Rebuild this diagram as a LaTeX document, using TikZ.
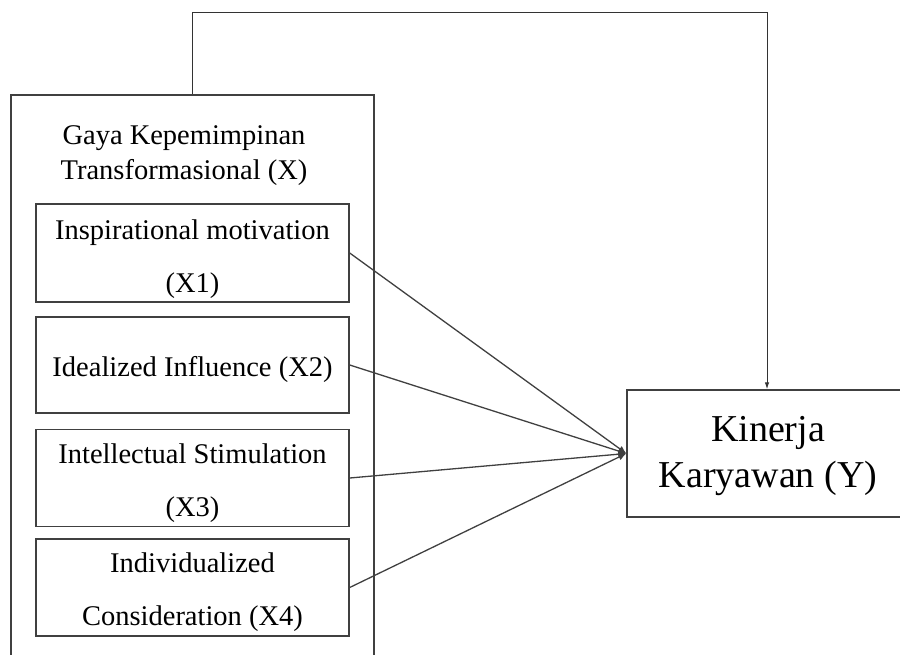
\documentclass[tikz,border=0pt]{standalone}
\usepackage{fontspec}
\setmainfont{Liberation Serif}
\usetikzlibrary{arrows.meta}
\begin{document}
\begin{tikzpicture}[x=1pt,y=-1pt,
  lc/.style={draw=black!75,line width=1.4pt},
  ibox/.style={lc,minimum width=313pt,inner sep=0pt},
  itext/.style={inner sep=0pt,align=center,font=\fontsize{28.5}{53}\selectfont},
  conn/.style={draw=black!75,line width=1.3pt,-{Latex[length=8pt,width=7pt]}},
  topconn/.style={draw=black!80,line width=1pt,-{Latex[length=7pt,width=4.5pt]}}
 ]
\useasboundingbox (0,0) rectangle (900,654);
\clip (0,0) rectangle (900,654);
\node[lc,minimum width=363pt,minimum height=580pt,inner sep=0pt] (outer) at (192.5,385) {};
\node[font=\fontsize{28.5}{35}\selectfont,align=center,inner sep=0pt] (title) at (184,156) {Gaya Kepemimpinan\\Transformasional (X)};
\node[ibox,minimum height=98pt] (b1) at (192.5,253) {};
\node[ibox,minimum height=96pt] (b2) at (192.5,365) {};
\node[ibox,minimum height=97pt] (b3) at (192.5,478) {};
\node[ibox,minimum height=97pt] (b4) at (192.5,587.5) {};
\node[itext] (b1t) at ([yshift=-6.5pt]b1.center) {Inspirational motivation\\(X1)};
\node[itext] (b2t) at ([yshift=-4pt]b2.center) {Idealized Influence (X2)};
\node[itext] (b3t) at ([yshift=-5pt]b3.center) {Intellectual Stimulation\\(X3)};
\node[itext] (b4t) at ([yshift=-4.5pt]b4.center) {Individualized\\Consideration (X4)};
\node[lc,minimum width=282pt,minimum height=127pt,inner sep=0pt] (kin) at (768,453.5) {};
\node[inner sep=0pt,align=center,font=\fontsize{38}{46}\selectfont] (kint) at ([yshift=-3pt]kin.center) {Kinerja\\Karyawan (Y)};
\coordinate (tr) at (767,12);
\draw[conn] (b1.east) -- (kin.west);
\draw[conn] (b2.east) -- (kin.west);
\draw[conn] (b3.east) -- (kin.west);
\draw[conn] (b4.east) -- (kin.west);
\draw[topconn] (outer.north) |- (tr) -- (tr |- kin.north);
\end{tikzpicture}
\end{document}
